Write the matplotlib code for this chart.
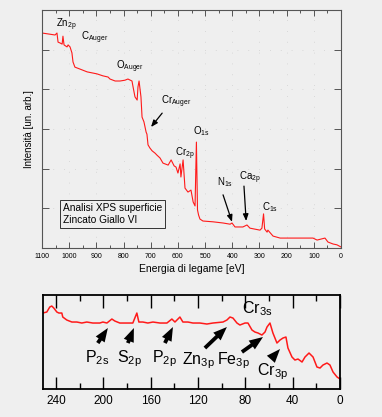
import matplotlib
matplotlib.use("Agg")
import matplotlib.pyplot as plt
from matplotlib.ticker import MultipleLocator

plt.rcParams['font.family'] = ['Liberation Sans', 'DejaVu Sans']
plt.rcParams['mathtext.fontset'] = 'custom'
plt.rcParams['mathtext.rm'] = 'Liberation Sans'
plt.rcParams['mathtext.it'] = 'Liberation Sans'

# ---- survey spectrum (binding energy eV, intensity arb.) ----
survey_energy = [1100, 1071, 1052, 1045, 1041, 1034, 1026, 1023, 1019, 1008, 1004, 997, 990, 986,
                 979, 960, 934, 898, 876, 857, 850, 831, 813, 795, 784, 769, 765, 758, 750, 747,
                 743, 736, 732, 725, 717, 714, 710, 703, 695, 684, 677, 666, 655, 636, 625, 614,
                 607, 600, 592, 589, 581, 574, 563, 552, 544, 537, 532, 528, 524, 519, 508, 471,
                 434, 408, 401, 390, 361, 346, 335, 298, 291, 285, 281, 272, 269, 250, 224, 177,
                 103, 88, 59, 48, 29, 15, 0]
survey_int = [54.2, 53.9, 53.7, 54.2, 51.9, 51.7, 51.4, 53.4, 51.2, 50.7, 51.2, 50.7, 49.2, 46.9,
              45.6, 45.1, 44.4, 43.9, 43.4, 43.1, 42.6, 42.1, 42.1, 42.3, 42.6, 42.1, 40.6, 38.1,
              37.3, 40.6, 42.1, 38.1, 33.0, 31.8, 29.2, 28.7, 26.0, 25.2, 24.5, 23.9, 23.4, 22.7,
              21.4, 20.9, 22.2, 20.7, 20.4, 18.9, 21.2, 17.9, 22.2, 15.1, 14.1, 14.6, 11.6, 10.6,
              26.7, 9.6, 8.3, 7.3, 6.8, 6.6, 6.3, 6.0, 6.3, 5.3, 5.3, 5.8, 5.0, 4.5, 5.0, 8.6,
              4.8, 4.0, 4.5, 3.0, 2.5, 2.5, 2.5, 2.0, 2.5, 1.5, 1.0, 0.8, 0.25]

survey_labels = ["Zn$_{2p}$", "C$_{Auger}$", "O$_{Auger}$", "Cr$_{Auger}$", "O$_{1s}$",
                 "Cr$_{2p}$", "N$_{1s}$", "Ca$_{2p}$", "C$_{1s}$"]
survey_label_E = [1048, 956, 828, 662, 544, 611, 456, 375, 291]
survey_label_I = [55.7, 52.4, 45.1, 36.3, 28.7, 23.2, 15.9, 17.1, 9.6]
survey_arrows = [((658, 34.0), (699, 30.5)), ((434, 13.4), (401, 6.6)), ((357, 15.6), (349, 6.8))]

# ---- detail of low binding-energy region ----
detail_energy = [251.2, 247.8, 245.3, 243.6, 241.9, 239.3, 237.6, 235.1, 234.3, 230.9, 226.6, 222.4,
                 218.2, 214.0, 208.9, 203.0, 200.4, 197.0, 192.8, 190.3, 186.1, 180.1, 175.1, 171.7,
                 170.0, 166.6, 162.4, 158.1, 152.2, 146.3, 142.1, 139.5, 135.3, 132.8, 128.5, 124.3,
                 118.4, 112.5, 107.4, 98.9, 95.6, 93.0, 90.5, 87.1, 84.6, 80.3, 77.8, 74.4, 71.9,
                 69.3, 66.0, 63.4, 61.7, 59.2, 56.7, 53.3, 50.7, 48.2, 45.7, 44.0, 40.6, 38.1, 35.5,
                 32.1, 29.6, 26.2, 22.8, 19.5, 16.9, 14.4, 11.0, 8.5, 5.9, 2.5, 0.0]
detail_int = [76, 77, 82, 83, 81, 77, 76, 76, 72, 69, 67, 67, 66, 67, 66, 66, 67, 66, 70, 68, 66, 66,
              66, 76, 67, 67, 66, 67, 66, 66, 70, 67, 72, 67, 67, 66, 66, 65, 66, 67, 69, 72, 71, 66,
              64, 66, 66, 59, 57, 56, 54, 57, 62, 66, 56, 46, 49, 51, 52, 41, 32, 29, 30, 27, 32, 36,
              32, 22, 21, 24, 26, 24, 17, 12, 10]

detail_labels = ["P$_{2s}$", "S$_{2p}$", "P$_{2p}$", "Zn$_{3p}$", "Fe$_{3p}$", "Cr$_{3p}$", "Cr$_{3s}$"]
detail_label_E = [215.7, 188.6, 159.0, 133.6, 104.0, 70.2, 82.9]
detail_label_I = [27, 27, 27, 25, 25, 14, 76]
detail_arrows = [((204.7, 46), (196.2, 61)), ((179.3, 46), (174.2, 61)), ((148.0, 46), (141.2, 62)),
                 ((114.2, 41), (95.6, 62)), ((82.9, 37), (65.1, 52)), ((57.5, 31), (50.7, 40))]

bg = '#efefef'
fig = plt.figure(figsize=(3.82, 4.17), dpi=100, facecolor=bg)

# ---------------- top panel ----------------
ax = fig.add_axes([0.110, 0.4053, 0.7827, 0.5707], facecolor=bg)
ax.plot(survey_energy, survey_int, color='#ff1a1a', lw=0.8)
ax.set_xlim(1100, 0)
ax.set_ylim(0, 60)
ax.xaxis.set_major_locator(MultipleLocator(100))
ax.xaxis.set_minor_locator(MultipleLocator(50))
ax.yaxis.set_major_locator(MultipleLocator(10))
ax.set_yticklabels([])
ax.tick_params(axis='both', which='both', direction='in', top=True, right=True,
               color='#555555', width=0.7)
ax.tick_params(axis='x', which='major', length=4, labelsize=5, pad=3.5)
ax.tick_params(axis='x', which='minor', length=2)
ax.tick_params(axis='y', which='major', length=5, labelleft=False)
for s in ax.spines.values():
    s.set_color('#555555')
    s.set_linewidth(0.8)
ax.grid(True, which='major', color='#d0d0d0', linestyle=(0, (1, 12)), linewidth=0.6)
ax.set_xlabel("Energia di legame [eV]", fontsize=7.5, labelpad=3)
ax.set_ylabel("Intensità [un. arb.]", fontsize=7, labelpad=6)

for t, e, i in zip(survey_labels, survey_label_E, survey_label_I):
    ax.text(e, i, t, fontsize=7, ha='left', va='baseline')
for (p0, p1) in survey_arrows:
    ax.annotate('', xy=p1, xytext=p0,
                arrowprops=dict(arrowstyle='-|>,head_length=0.5,head_width=0.2', color='black',
                                lw=0.9, shrinkA=0, shrinkB=0, mutation_scale=8))
ax.text(1024, 8.5, "Analisi XPS superficie\nZincato Giallo VI", fontsize=7.3, ha='left',
        va='center', linespacing=1.25,
        bbox=dict(boxstyle='square,pad=0.3', facecolor=bg, edgecolor='#333333', linewidth=0.7))

# ---------------- bottom panel ----------------
ax2 = fig.add_axes([0.1126, 0.0671, 0.7775, 0.2254], facecolor=bg)
ax2.plot(detail_energy, detail_int, color='#ff1a1a', lw=1.1)
ax2.set_xlim(251, 0)
ax2.set_ylim(0, 94)
ax2.xaxis.set_major_locator(MultipleLocator(40))
ax2.xaxis.set_minor_locator(MultipleLocator(20))
ax2.set_yticks([])
ax2.tick_params(axis='x', which='both', direction='in', top=True, color='black', width=1.0)
ax2.tick_params(axis='x', which='major', length=9, labelsize=8.5, pad=4)
ax2.tick_params(axis='x', which='minor', length=4)
for s in ax2.spines.values():
    s.set_color('black')
    s.set_linewidth(1.3)

for t, e, i in zip(detail_labels, detail_label_E, detail_label_I):
    ax2.text(e, i, t, fontsize=11.5, ha='left', va='baseline')
for (p0, p1) in detail_arrows:
    ax2.annotate('', xy=p1, xytext=p0,
                 arrowprops=dict(arrowstyle='simple,head_length=0.9,head_width=0.7,tail_width=0.25',
                                 color='black', lw=0, shrinkA=0, shrinkB=0, mutation_scale=11))

fig.savefig("out.png", dpi=100, facecolor=bg)
